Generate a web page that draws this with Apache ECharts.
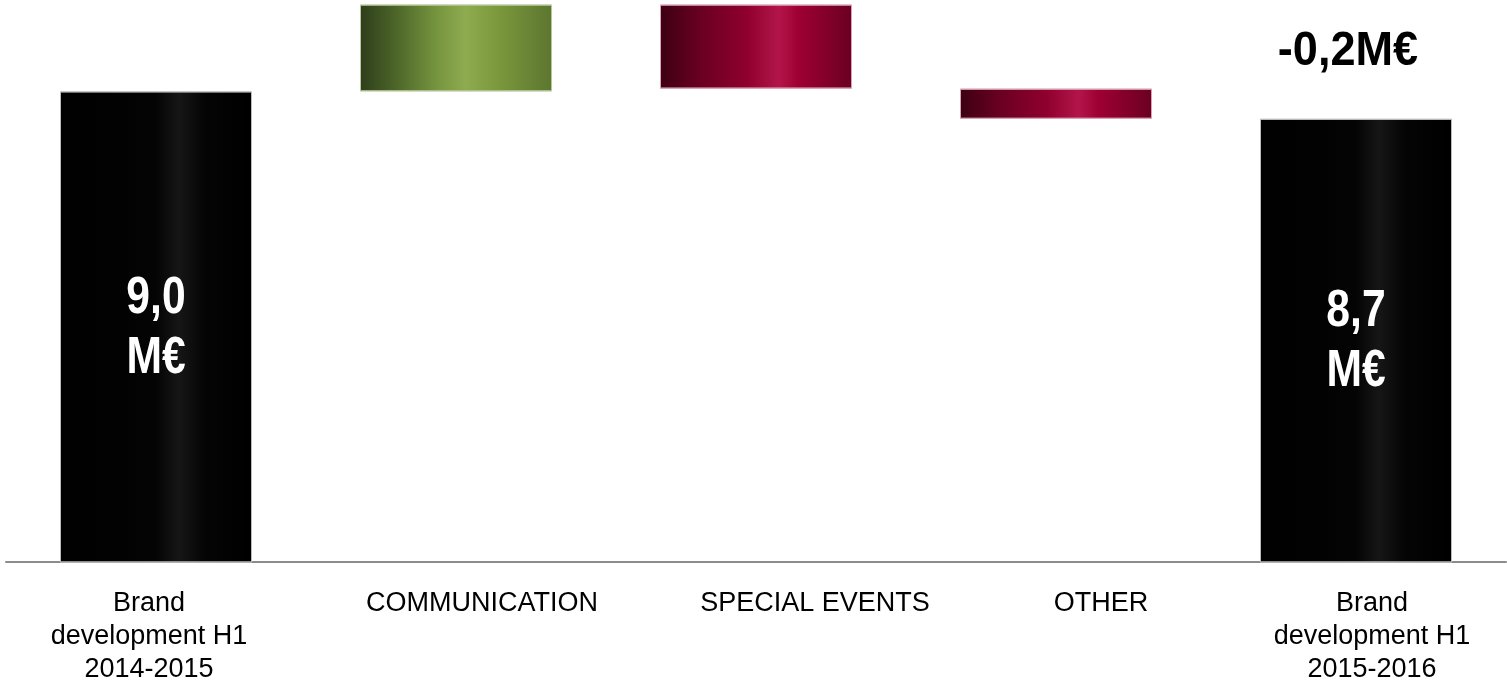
<!DOCTYPE html>
<html>
<head>
<meta charset="utf-8">
<script src="https://cdn.jsdelivr.net/npm/echarts@6/dist/echarts.min.js"></script>
<style>
  html, body { margin: 0; padding: 0; background: #fff; }
  #chart { width: 1507px; height: 683px; }
</style>
</head>
<body>
<div id="chart"></div>
<script>
// Brand development bridge, H1 2014-2015 to H1 2015-2016 (M€)
const categories = [
  'Brand\ndevelopment H1\n2014-2015',
  'COMMUNICATION',
  'SPECIAL EVENTS',
  'OTHER',
  'Brand\ndevelopment H1\n2015-2016'
];
const startValue = 9.0;
const changes = [0.95, -0.92, -0.33];
const endValue = 8.7;
const totalLabels = ['9,0\nM€', '8,7\nM€'];
const deltaLabel = '-0,2M€';

// running totals -> invisible base + visible segment for each column
const baseData = [0];
const segData = [startValue];
let running = startValue;
changes.forEach(c => {
  const next = running + c;
  baseData.push(+Math.min(running, next).toFixed(4));
  segData.push(+Math.abs(c).toFixed(4));
  running = next;
});
baseData.push(0);
segData.push(endValue);

// horizontal nudges of the category captions (px, + = right)
const captionShift = [-7, 26, 59, 45, 16];
const axisMin = 3.85;
const axisMax = 10;

const hGrad = stops => new echarts.graphic.LinearGradient(0, 0, 1, 0,
  stops.map(([offset, color]) => ({ offset, color })));

const blackFill = hGrad([[0, '#000'], [0.5, '#040404'], [0.62, '#161616'], [0.76, '#040404'], [1, '#000']]);
const greenFill = hGrad([[0, '#2e3d1b'], [0.18, '#4b6428'], [0.4, '#76953f'], [0.55, '#8eab50'], [0.72, '#7b983c'], [1, '#5c7630']]);
const redFill = hGrad([[0, '#3c0012'], [0.2, '#680022'], [0.45, '#8f002e'], [0.62, '#b3154a'], [0.72, '#9f0034'], [1, '#6a0022']]);

const totalStyle = { color: blackFill, borderColor: '#bdbdbd', borderWidth: 1 };
const segStyles = [
  totalStyle,
  { color: greenFill, borderColor: '#b8c79c', borderWidth: 1 },
  { color: redFill, borderColor: '#d9a3b5', borderWidth: 1 },
  { color: redFill, borderColor: '#d9a3b5', borderWidth: 1 },
  totalStyle
];

const boldFont = '"Liberation Sans", Arial, sans-serif';

const chart = echarts.init(document.getElementById('chart'), null, { renderer: 'canvas' });

chart.setOption({
  animation: false,
  backgroundColor: '#fff',
  grid: { left: 6, right: 1, top: 0, bottom: 121, containLabel: false, outerBoundsMode: 'none' },
  xAxis: {
    type: 'category',
    data: categories.map((c, i) => ({
      value: c,
      textStyle: {
        padding: captionShift[i] >= 0 ? [0, 0, 0, 2 * captionShift[i]] : [0, -2 * captionShift[i], 0, 0]
      }
    })),
    axisTick: { show: false },
    axisLine: { lineStyle: { color: '#8c8c8c', width: 2 } },
    axisLabel: {
      interval: 0,
      margin: 25,
      color: '#000',
      fontFamily: '"Liberation Sans", Arial, sans-serif',
      fontSize: 27,
      lineHeight: 33,
      verticalAlign: 'top'
    }
  },
  yAxis: {
    type: 'value',
    min: axisMin,
    max: axisMax,
    show: false,
    splitLine: { show: false }
  },
  series: [
    {
      name: 'base',
      type: 'bar',
      stack: 'bridge',
      barWidth: 192,
      silent: true,
      itemStyle: { color: 'transparent' },
      data: baseData
    },
    {
      name: 'segment',
      type: 'bar',
      stack: 'bridge',
      barWidth: 192,
      data: segData.map((v, i) => ({ value: v, itemStyle: segStyles[i] }))
    }
  ]
});

// condensed bold value captions, placed from the grid's own coordinates
const lastIdx = categories.length - 1;
const toPx = (idx, val) => chart.convertToPixel({ gridIndex: 0 }, [idx, val]);
const [x0, yTop0] = toPx(0, startValue);
const [x1, yTop1] = toPx(lastIdx, endValue);
const [, yBase] = toPx(0, axisMin);

const condensed = (text, x, y, size, sx, color) => ({
  type: 'text',
  x, y,
  z: 100,
  scaleX: sx,
  style: {
    text,
    fill: color,
    align: 'center',
    verticalAlign: 'middle',
    fontFamily: boldFont,
    fontWeight: 'bold',
    fontSize: size,
    lineHeight: 60
  }
});

chart.setOption({
  graphic: [
    condensed(totalLabels[0], x0, (yTop0 + yBase) / 2 + 2, 52, 0.82, '#fff'),
    condensed(totalLabels[1], x1, (yTop1 + yBase) / 2 + 1, 52, 0.82, '#fff'),
    condensed(deltaLabel, x1 - 8, yTop1 - 67, 49, 0.92, '#000')
  ]
});
</script>
</body>
</html>
